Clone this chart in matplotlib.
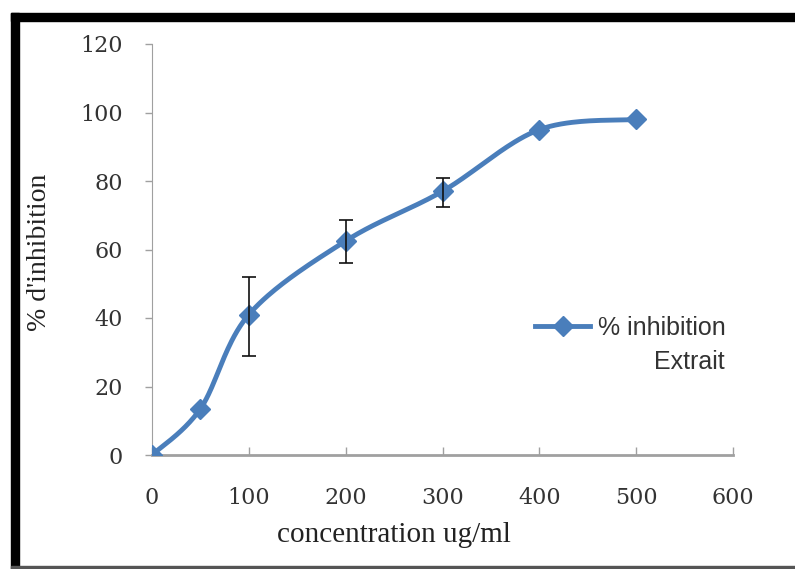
import numpy as np
import matplotlib
matplotlib.use("Agg")
import matplotlib.pyplot as plt
from matplotlib.lines import Line2D
from matplotlib.patches import Rectangle

# data
concentration = [0, 50, 100, 200, 300, 400, 500]
inhibition = [0, 13.5, 41, 62.5, 77, 95, 98]
error_low = [0, 0, 12, 6.5, 4.5, 0, 0]
error_high = [0, 0, 11, 6, 4, 0, 0]
x_ticks = [0, 100, 200, 300, 400, 500, 600]
y_ticks = [0, 20, 40, 60, 80, 100, 120]

blue = "#4a7ebb"
W, H = 795, 569


def smooth_curve(xs, ys, steps=40):
    # Catmull-Rom style curve through the points, like Excel's smoothed line
    xs = np.asarray(xs, float)
    ys = np.asarray(ys, float)
    px = np.concatenate([[xs[0]], xs, [xs[-1]]])
    py = np.concatenate([[ys[0]], ys, [ys[-1]]])
    out_x, out_y = [], []
    t = np.linspace(0, 1, steps)
    for i in range(1, len(px) - 2):
        p0, p1, p2, p3 = [np.array([px[j], py[j]]) for j in (i - 1, i, i + 1, i + 2)]
        c1 = p1 + (p2 - p0) / 6
        c2 = p2 - (p3 - p1) / 6
        pts = ((1 - t) ** 3)[:, None] * p1 + (3 * (1 - t) ** 2 * t)[:, None] * c1 \
            + (3 * (1 - t) * t ** 2)[:, None] * c2 + (t ** 3)[:, None] * p2
        out_x.extend(pts[:, 0])
        out_y.extend(pts[:, 1])
    return out_x, out_y


fig = plt.figure(figsize=(W / 100, H / 100), dpi=100)
ax = fig.add_axes([152 / W, 1 - 455 / H, 581 / W, 411 / H])

sx, sy = smooth_curve(concentration, inhibition)
ax.plot(sx, sy, color=blue, lw=3.5, solid_capstyle="round", zorder=3)
ax.plot(concentration, inhibition, linestyle="none", marker="D", markersize=10,
        color=blue, zorder=4)
ax.errorbar(concentration[2:5], inhibition[2:5],
            yerr=[error_low[2:5], error_high[2:5]],
            fmt="none", ecolor="#111111", elinewidth=1.2, capsize=5,
            capthick=1.2, zorder=5)

ax.set_xlim(0, 600)
ax.set_ylim(0, 120)
ax.set_xticks(x_ticks)
ax.set_yticks(y_ticks)

for side in ["top", "right"]:
    ax.spines[side].set_visible(False)
ax.spines["left"].set_color("#a0a0a0")
ax.spines["bottom"].set_color("#a0a0a0")
ax.spines["bottom"].set_linewidth(2)
ax.tick_params(axis="both", colors="#a0a0a0", length=5, width=1)
ax.tick_params(axis="x", direction="in", length=6, pad=23)
ax.tick_params(axis="y", direction="out", pad=16)
for lab in ax.get_xticklabels() + ax.get_yticklabels():
    lab.set_color("#333333")
    lab.set_family("DejaVu Serif")
    lab.set_fontsize(16)

fig.text(394 / W, 1 - 535 / H, "concentration ug/ml", family="Liberation Serif",
         fontsize=21, color="#222222", ha="center", va="center")
fig.text(40 / W, 1 - 252 / H, "% d'inhibition", family="Liberation Serif",
         fontsize=20, color="#222222", ha="center", va="center", rotation=90)

handle = Line2D([], [], color=blue, lw=3.5, marker="D", markersize=10)
leg = fig.legend([handle], ["% inhibition"], loc="center left",
                 bbox_to_anchor=(535 / W, 1 - 328 / H), frameon=False,
                 borderpad=0, borderaxespad=0, handlelength=2.2,
                 handletextpad=0.3,
                 prop={"family": "Liberation Sans", "size": 18})
leg.get_texts()[0].set_color("#333333")
fig.text(725 / W, 1 - 362 / H, "Extrait", family="Liberation Sans",
         fontsize=18, color="#333333", ha="right", va="center")

# black frame on the left and top, thin line at the bottom
fig.patches.append(Rectangle((11 / W, 0), 8 / W, 1 - 13 / H,
                             transform=fig.transFigure, color="black"))
fig.patches.append(Rectangle((11 / W, 1 - 21 / H), 1, 8 / H,
                             transform=fig.transFigure, color="black"))
fig.patches.append(Rectangle((11 / W, 0.5 / H), 1, 3 / H,
                             transform=fig.transFigure, color="#555555"))

plt.savefig("out.png", dpi=100)
